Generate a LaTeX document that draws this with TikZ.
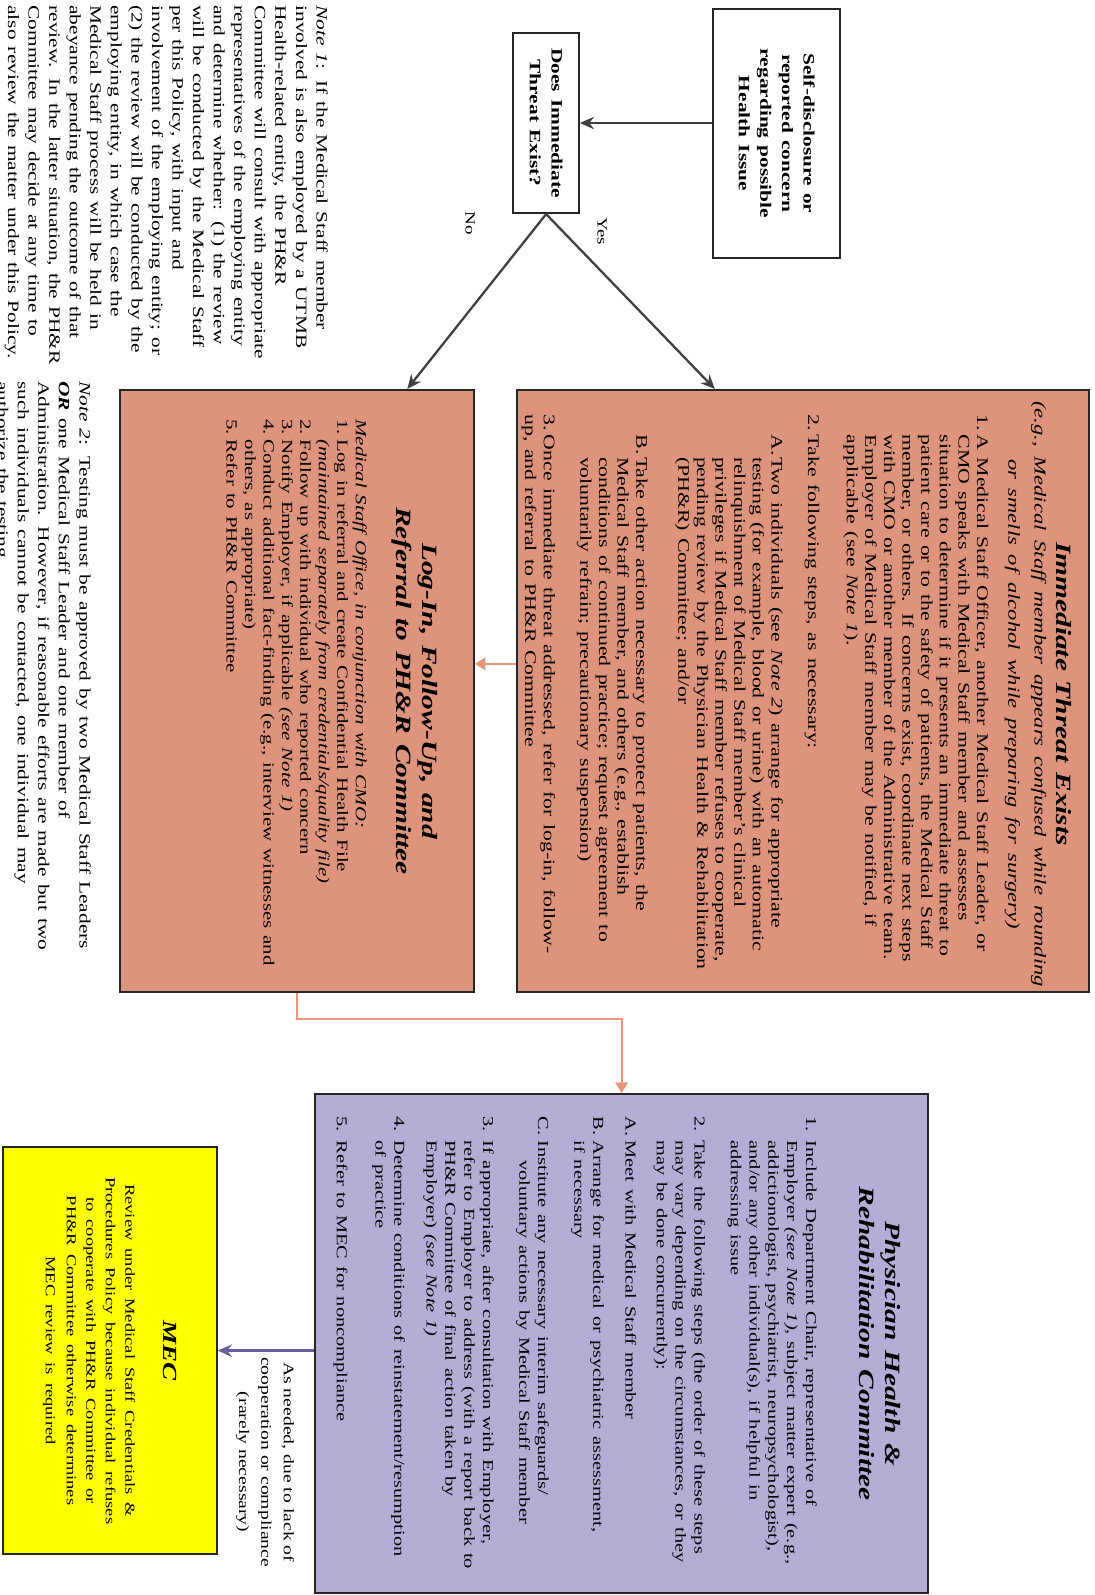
\documentclass[tikz,border=0pt]{standalone}
\usepackage{fontspec}
\setmainfont{Liberation Serif}
\usetikzlibrary{arrows.meta, calc}
\definecolor{salfill}{RGB}{222,148,124}
\definecolor{lavfill}{RGB}{180,173,214}
\definecolor{mecyel}{RGB}{255,255,0}
\definecolor{arrgray}{RGB}{64,64,64}
\definecolor{salline}{RGB}{232,150,122}
\definecolor{purline}{RGB}{107,92,158}
\newcommand\bodyfont{\fontsize{9.2}{10.6}\selectfont}
\newcommand\logfont{\fontsize{8.8}{10.5}\selectfont}
\newcommand\phrfont{\fontsize{8.6}{10.7}\selectfont}
\newcommand\ttlfont{\fontsize{12.4}{15}\selectfont\bfseries\itshape}
\newcommand\headfont{\fontsize{9}{12.3}\selectfont\bfseries}
\newcommand\notefont{\fontsize{9}{11.7}\selectfont}
\newcommand\mecfont{\fontsize{7.8}{11.1}\selectfont}
\newcommand\lblfont{\fontsize{8.3}{12.8}\selectfont}
\newcommand\ynfont{\fontsize{8}{9.6}\selectfont}
\setlength\parindent{0pt}
\hyphenpenalty=10000 \exhyphenpenalty=10000
\newlength\lblw \setlength\lblw{0.3cm}
\newlength\sublw \setlength\sublw{0.33cm}
\newcommand\itm[3][\lblw]{\par\noindent\hangindent=#1\hangafter=1\makebox[\lblw][l]{#2}#3\par}
\newcommand\sitm[2]{\par\noindent\hangindent=\dimexpr\lblw+\sublw\relax\hangafter=1\hspace*{\lblw}\makebox[\sublw][l]{#1}#2\par}
\newcommand\jl[1]{\hbox to\hsize{#1}}

\begin{document}
\begin{tikzpicture}[
  box/.style={draw=black!85, line width=0.9pt, inner sep=0pt},
  ttl/.style={inner sep=0pt, align=center, font=\ttlfont},
  txt/.style={inner sep=0pt, anchor=north west, font=\bodyfont},
  grayarr/.style={draw=arrgray, line width=1.3pt, -{Stealth[length=8pt,width=7pt]}},
  salarr/.style={draw=salline, line width=1.1pt, -{Triangle[length=6pt,width=7pt]}},
  purarr/.style={draw=purline, line width=1.4pt, -{Stealth[length=8pt,width=7pt]}}
]
\path[use as bounding box, fill=white] (0,0) rectangle (21.88,-31.9);
\begin{scope}[x=0.014815cm, y=0.02cm, rotate=-90, xscale=1.35, transform shape]
  \node[box, fill=white, minimum width=3.689cm, minimum height=2.54cm, text width=3.4cm, align=center, font=\headfont] (selfbox) at (133.5,776.5) {Self-disclosure or\\ reported concern\\ regarding possible\\ Health Issue};
  \node[box, fill=white, minimum width=2.667cm, minimum height=1.32cm, text width=2.5cm, align=center, font=\headfont] (threatq) at (123,546) {Does Immediate\\ Threat Exist?};
  \node[inner sep=0pt, font=\ynfont] (yeslbl) at (231,602) {Yes};
  \node[inner sep=0pt, font=\ynfont] (nolbl) at (223,470) {No};

  \node[box, fill=salfill, minimum width=8.919cm, minimum height=11.44cm] (immbox) at (691,803) {};
  \node[ttl, text width=8.85cm, anchor=north] (immttl) at (694,1072) {Immediate Threat Exists\\[2pt]
    {\fontsize{9.5}{10.6}\selectfont\mdseries\itshape (e.g., Medical Staff member appears confused while rounding\\ or smells of alcohol while preparing for surgery)}};
  \node[txt, text width=9.5cm] (immtxt) at (414,996) {%
    \itm{1.}{A Medical Staff Officer, another Medical Staff Leader, or\newline
      CMO speaks with Medical Staff member and assesses\newline
      situation to determine if it presents an immediate threat to\newline
      patient care or to the safety of patients, the Medical Staff\newline
      member, or others. If concerns exist, coordinate next steps\newline
      with CMO or another member of the Administrative team.\newline
      Employer of Medical Staff member may be notified, if\newline
      applicable (see \textit{Note 1}).}
    \vspace{0.4cm}
    \itm{2.}{Take following steps, as necessary:}
    \vspace{0.36cm}
    \sitm{A.}{Two individuals (see \textit{Note 2}) arrange for appropriate\newline
      testing (for example, blood or urine) with an automatic\newline
      relinquishment of Medical Staff member's clinical\newline
      privileges if Medical Staff member refuses to cooperate,\newline
      pending review by the Physician Health \& Rehabilitation\newline
      (PH\&R) Committee; and/or}
    \vspace{0.47cm}
    \sitm{B.}{Take other action necessary to protect patients, the\newline
      Medical Staff member, and others (e.g., establish\newline
      conditions of continued practice; request agreement to\newline
      voluntarily refrain; precautionary suspension)}
    \vspace{0.36cm}
    \par\noindent\makebox[\lblw][l]{3.}Once immediate threat addressed, refer for log-in, follow-\newline
      up, and referral to PH\&R Committee\par};

  \node[box, fill=salfill, minimum width=8.919cm, minimum height=7.08cm] (logbox) at (691,297) {};
  \node[ttl, text width=8.8cm, anchor=north] (logttl) at (691,438) {Log-In, Follow-Up, and\\ Referral to PH\&R Committee};
  \node[txt, text width=9.5cm, font=\logfont] (logtxt) at (419,367) {%
    \textit{Medical Staff Office, in conjunction with CMO:}\par
    \itm{1.}{Log in referral and create Confidential Health File\newline
      \textit{(maintained separately from credentials/quality file)}}
    \itm{2.}{Follow up with individual who reported concern}
    \itm{3.}{Notify Employer, if applicable \textit{(see Note 1)}}
    \itm{4.}{Conduct additional fact-finding (e.g., interview witnesses and\newline
      others, as appropriate)}
    \itm{5.}{Refer to PH\&R Committee}};

  \node[box, fill=lavfill, minimum width=7.393cm, minimum height=12.26cm] (phrbox) at (1343.5,621.5) {};
  \node[ttl, text width=7.3cm, anchor=north] (phrttl) at (1343.5,901) {Physician Health \&\\ Rehabilitation Committee};
  \node[txt, text width=8cm, font=\phrfont] (phrtxt) at (1116,825) {\setlength\lblw{0.356cm}%
    \itm{1.}{Include Department Chair, representative of\newline
      Employer \textit{(see Note 1)}, subject matter expert (e.g.,\newline
      addictionologist, psychiatrist, neuropsychologist),\newline
      and/or any other individual(s), if helpful in\newline
      addressing issue}
    \vspace{0.35cm}
    \itm{2.}{Take the following steps (the order of these steps\newline
      may vary depending on the circumstances, or they\newline
      may be done concurrently):}
    \vspace{0.25cm}
    \itm{A.}{Meet with Medical Staff member}
    \vspace{0.27cm}
    \itm{B.}{Arrange for medical or psychiatric assessment,\newline
      if necessary}
    \vspace{0.35cm}
    \itm[0.65cm]{C.}{Institute any necessary interim safeguards/\newline
      voluntary actions by Medical Staff member}
    \vspace{0.35cm}
    \itm{3.}{If appropriate, after consultation with Employer,\newline
      refer to Employer to address (with a report back to\newline
      PH\&R Committee of final action taken by\newline
      Employer) \textit{(see Note 1)}}
    \vspace{0.27cm}
    \itm{4.}{Determine conditions of reinstatement/resumption\newline
      of practice}
    \vspace{0.4cm}
    \itm{5.}{Refer to MEC for noncompliance}};

  \node[box, fill=mecyel, minimum width=6.03cm, minimum height=4.28cm, text width=5.8cm, align=center] (mecbox) at (1350.5,110) {{\fontsize{11.4}{13}\selectfont\bfseries\itshape MEC}\\[0.38cm]
    {\mecfont Review under Medical Staff Credentials \&\\ Procedures Policy because individual refuses\\ to cooperate with PH\&R Committee or\\ PH\&R Committee otherwise determines\\ MEC review is required}};
  \node[inner sep=0pt, align=center, font=\lblfont] (needlbl) at (1462,265) {As needed, due to lack of\\ cooperation or compliance\\ (rarely necessary)};

  \node[txt, text width=5.2cm, font=\notefont] (note1) at (5,328) {%
    \jl{\textit{Note 1}: If the Medical Staff member}
    \jl{involved is also employed by a UTMB}
    \jl{Health-related entity, the PH\&R}
    \jl{Committee will consult with appropriate}
    \jl{representatives of the employing entity}
    \jl{and determine whether: (1) the review}
    \jl{will be conducted by the Medical Staff}
    \jl{per this Policy, with input and}
    \jl{involvement of the employing entity; or}
    \jl{(2) the review will be conducted by the}
    \jl{employing entity, in which case the}
    \jl{Medical Staff process will be held in}
    \jl{abeyance pending the outcome of that}
    \jl{review. In the latter situation, the PH\&R}
    \jl{Committee may decide at any time to}
    \hbox{also review the matter under this Policy.}};
  \node[txt, text width=9.2cm, font=\notefont] (note2) at (381,91) {%
    \jl{\textit{Note 2}: Testing must be approved by two Medical Staff Leaders}
    \jl{\textbf{\textit{OR}} one Medical Staff Leader and one member of}
    \jl{Administration. However, if reasonable efforts are made but two}
    \jl{such individuals cannot be contacted, one individual may}
    \hbox{authorize the testing.}};
\end{scope}

\draw[grayarr] (selfbox.south |- threatq.north) -- (threatq.north);
\draw[grayarr] (threatq.east) -- ($(immbox.north west)!0.654!(immbox.south west)$);
\draw[grayarr] (threatq.east) -- ($(logbox.north west)!0.19!(logbox.south west)$);
\draw[salarr] ($(immbox.south west)!0.455!(immbox.south east)$) coordinate (imm2log) -- (logbox.north |- imm2log);
\draw[salarr] (logbox.east) -- ++(0,-0.52) -| (phrbox.west);
\draw[purarr] (mecbox.north -| phrbox.south) -- (mecbox.north);
\end{tikzpicture}
\end{document}
